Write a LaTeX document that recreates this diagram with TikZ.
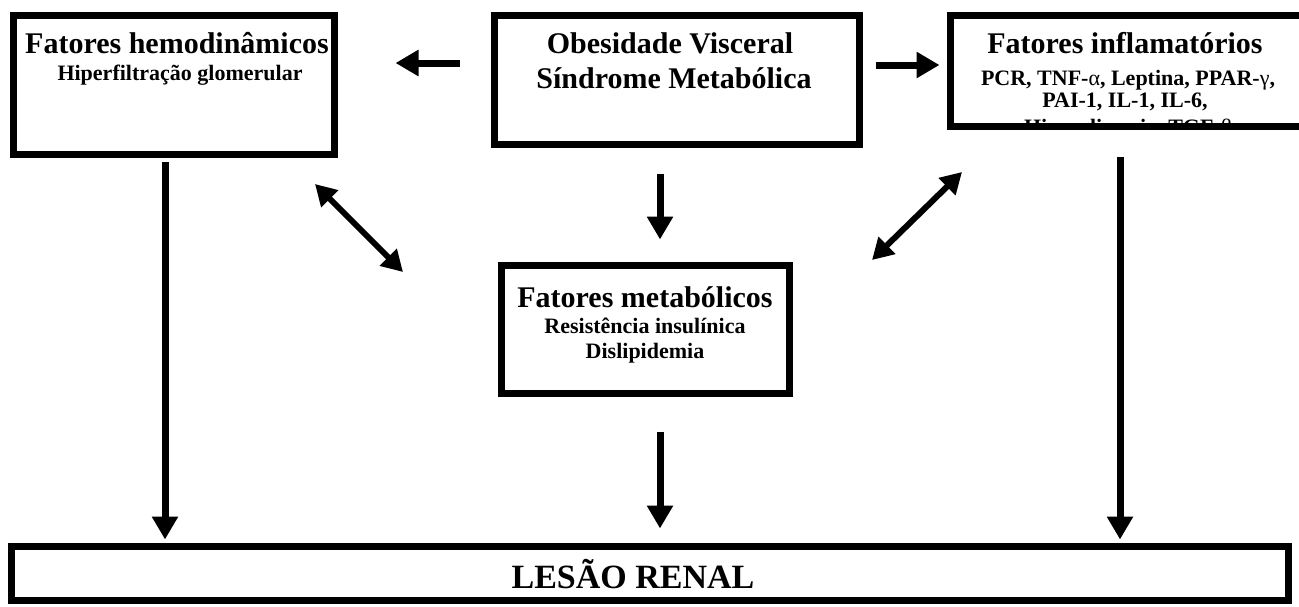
\documentclass[tikz,border=0pt]{standalone}
\usepackage{fontspec}
\setmainfont{Liberation Serif}
\usetikzlibrary{arrows.meta}
\tikzset{
  box/.style={draw=black, line width=7pt, fill=white, inner sep=0pt},
  arr/.style={line width=7pt, -{Triangle[length=23pt,width=25pt]}},
  darr/.style={line width=6pt, {Triangle[length=21pt,width=23pt]}-{Triangle[length=21pt,width=23pt]}},
  ttl/.style={anchor=base, inner sep=0pt, font=\fontsize{30}{35}\selectfont\bfseries},
  sub/.style={anchor=base, inner sep=0pt, font=\fontsize{22}{24}\selectfont\bfseries},
  big/.style={anchor=base, inner sep=0pt, font=\fontsize{34}{38}\selectfont\bfseries}
}
\begin{document}
\begin{tikzpicture}[x=1pt,y=-1pt]
\clip (0,0) rectangle (1299,606);
\fill[white] (0,0) rectangle (1299,606);
% boxes
\node[box, minimum width=321pt, minimum height=139pt] (hemo) at (174,85) {};
\node[box, minimum width=365pt, minimum height=129pt] (obes) at (677,80) {};
\node[box, minimum width=376pt, minimum height=111pt] (infl) at (1138.5,71) {};
\node[box, minimum width=288pt, minimum height=128pt] (meta) at (645.5,329.5) {};
\node[box, minimum width=1277pt, minimum height=54pt] (lesao) at (650,573.5) {};
% texts
\node[ttl] (hemoT) at (177,53) {Fatores hemodinâmicos};
\node[sub] (hemoS) at (180,80) {Hiperfiltração glomerular};
\node[ttl] (obesT1) at (670,53) {Obesidade Visceral};
\node[ttl] (obesT2) at (674,88) {Síndrome Metabólica};
\node[ttl] (inflT) at (1125,53) {Fatores inflamatórios};
\begin{scope}
\clip (954,19) rectangle (1299,123);
\node[sub] (inflS1) at (1128,85) {PCR, TNF-{\mdseries α}, Leptina, PPAR-{\mdseries γ},};
\node[sub] (inflS2) at (1125,107) {PAI-1, IL-1, IL-6,};
\node[sub] (inflS3) at (1128,134) {Hiperglicemia, TGF-{\mdseries β}};
\end{scope}
\node[ttl] (metaT) at (645,307) {Fatores metabólicos};
\node[sub] (metaS1) at (645,333) {Resistência insulínica};
\node[sub] (metaS2) at (645,358) {Dislipidemia};
\node[big] (lesaoT) at (633,588) {LESÃO RENAL};
% connectors
\draw[arr, shorten <=31.5pt, shorten >=57.5pt] (obes.west |- 0,63) -- (hemo.east |- 0,63);
\draw[arr, shorten <=12.5pt, shorten >=7.5pt] (obes.east |- 0,65) -- (infl.west |- 0,65);
\draw[arr, shorten <=25.5pt, shorten >=22.5pt] (660,0 |- obes.south) -- (660,0 |- meta.north);
\coordinate (dl1) at (315,184);
\coordinate (dl2) at (403,272);
\coordinate (dr1) at (962,172);
\coordinate (dr2) at (872,260);
\draw[darr] (dl1) -- (dl2);
\draw[darr] (dr1) -- (dr2);
\draw[arr, shorten <=3.5pt, shorten >=3.5pt] (165,0 |- hemo.south) -- (165,0 |- lesao.north);
\draw[arr, shorten <=34.5pt, shorten >=14.5pt] (660,0 |- meta.south) -- (660,0 |- lesao.north);
\draw[arr, shorten <=26.5pt, shorten >=3.5pt] (1120,0 |- infl.south) -- (1120,0 |- lesao.north);
\end{tikzpicture}
\end{document}
